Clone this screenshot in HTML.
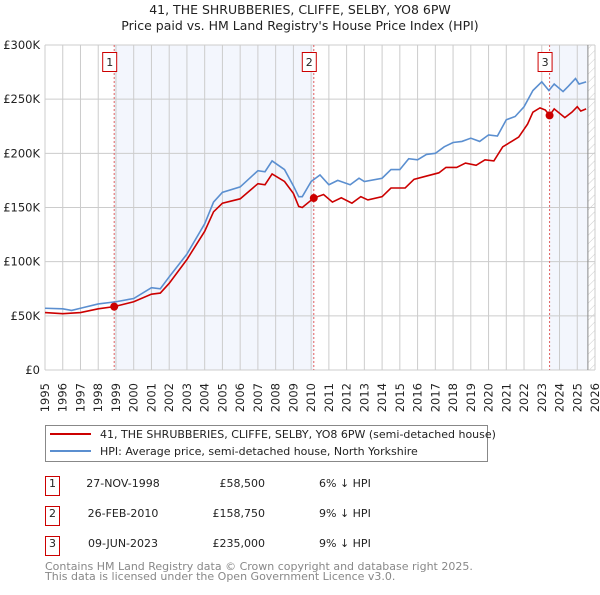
<!DOCTYPE html>
<html><head><meta charset="utf-8"><style>
body{margin:0;background:#fff;}
svg text{font-family:"DejaVu Sans","Liberation Sans",sans-serif;}
</style></head><body>
<svg width="600" height="590" viewBox="0 0 600 590" xmlns="http://www.w3.org/2000/svg">
<defs><pattern id="hatch" width="6" height="6" patternUnits="userSpaceOnUse" patternTransform="rotate(45)"><line x1="0" y1="0" x2="0" y2="6" stroke="#ccc" stroke-width="1"/></pattern></defs>
<text x="300" y="14" text-anchor="middle" font-size="12.5" fill="#222">41, THE SHRUBBERIES, CLIFFE, SELBY, YO8 6PW</text>
<text x="300" y="30" text-anchor="middle" font-size="12.5" fill="#222">Price paid vs. HM Land Registry's House Price Index (HPI)</text>
<g id="plot"></g>
<g>
<rect x="45.5" y="425.5" width="442" height="36" fill="#fff" stroke="#888"/>
<line x1="50" y1="434" x2="91" y2="434" stroke="#cc0000" stroke-width="2"/>
<text x="100" y="438" font-size="11" fill="#222">41, THE SHRUBBERIES, CLIFFE, SELBY, YO8 6PW (semi-detached house)</text>
<line x1="50" y1="451" x2="91" y2="451" stroke="#5b8fd0" stroke-width="2"/>
<text x="100" y="455" font-size="11" fill="#222">HPI: Average price, semi-detached house, North Yorkshire</text>
</g>
<g font-size="11" fill="#222">
<rect x="45.5" y="476.5" width="14" height="19" fill="#fff" stroke="#cc0000"/><text x="52.5" y="487" text-anchor="middle">1</text>
<text x="123" y="487" text-anchor="middle">27-NOV-1998</text><text x="265" y="487" text-anchor="end">£58,500</text><text x="319" y="487">6% ↓ HPI</text>
<rect x="45.5" y="506.5" width="14" height="19" fill="#fff" stroke="#cc0000"/><text x="52.5" y="517" text-anchor="middle">2</text>
<text x="123" y="517" text-anchor="middle">26-FEB-2010</text><text x="265" y="517" text-anchor="end">£158,750</text><text x="319" y="517">9% ↓ HPI</text>
<rect x="45.5" y="536.5" width="14" height="19" fill="#fff" stroke="#cc0000"/><text x="52.5" y="547" text-anchor="middle">3</text>
<text x="123" y="547" text-anchor="middle">09-JUN-2023</text><text x="265" y="547" text-anchor="end">£235,000</text><text x="319" y="547">9% ↓ HPI</text>
</g>
<text x="45" y="570" font-size="11" fill="#888">Contains HM Land Registry data © Crown copyright and database right 2025.</text>
<text x="45" y="580" font-size="11" fill="#888">This data is licensed under the Open Government Licence v3.0.</text>
</svg>
<script>
const yTicks=[0,50,100,150,200,250,300];
const yTickLabels=["£0","£50K","£100K","£150K","£200K","£250K","£300K"];
const years=[1995,1996,1997,1998,1999,2000,2001,2002,2003,2004,2005,2006,2007,2008,2009,2010,2011,2012,2013,2014,2015,2016,2017,2018,2019,2020,2021,2022,2023,2024,2025,2026];
const hpiT=[1995,1996,1996.5,1997,1998,1999,2000,2001,2001.5,2002,2003,2004,2004.5,2005,2006,2007,2007.4,2007.8,2008.5,2009,2009.3,2009.5,2010,2010.5,2011,2011.5,2012.2,2012.7,2013,2014,2014.5,2015,2015.5,2016,2016.5,2017,2017.5,2018,2018.5,2019,2019.5,2020,2020.5,2021,2021.5,2022,2022.5,2023,2023.4,2023.7,2024.2,2024.5,2024.9,2025.1,2025.5];
const hpiV=[57,56.5,55,57,61,63,66,76,75,86,107,135,155,164,169,184,183,193,185,170,160,160,174,180,171,175,171,177,174,177,185,185,195,194,199,200,206,210,211,214,211,217,216,231,234,243,258,266,258,264,257,262,269,264,266];
const ppT=[1995,1996,1997,1998,1998.9,2000,2001,2001.5,2002,2003,2004,2004.5,2005,2006,2007,2007.4,2007.8,2008.5,2009,2009.3,2009.5,2010.15,2010.7,2011.2,2011.7,2012.3,2012.8,2013.2,2014,2014.5,2015.3,2015.8,2016.5,2017.2,2017.6,2018.2,2018.7,2019.3,2019.8,2020.3,2020.8,2021.3,2021.7,2022.2,2022.5,2022.9,2023.2,2023.44,2023.7,2024.3,2024.7,2025,2025.2,2025.5];
const ppV=[53,52,53,56.5,58.5,63,70,71,80,102,128,146,154,158,172,171,181,174,163,151,150,158.75,162,155,159,154,160,157,160,168,168,176,179,182,187,187,191,189,194,193,206,211,215,227,238,242,240,235,241,233,238,243,239,241];
const saleT=[1998.9,2010.15,2023.44];
const saleV=[58.5,158.75,235];
const saleLabels=["1","2","3"];
const L=45,R=595,T=45,B=370,dataEnd=2025.6;
const X=t=>L+(t-1995)*(R-L)/31;
const Y=v=>B-v*(B-T)/300;
const NS="http://www.w3.org/2000/svg";
const g=document.getElementById('plot');
function mk(tag,attrs,parent){const e=document.createElementNS(NS,tag);for(const k in attrs)e.setAttribute(k,attrs[k]);(parent||g).appendChild(e);return e;}
let e;
e=mk('rect',{x:X(saleT[0]),y:T,width:X(saleT[1])-X(saleT[0]),height:B-T,fill:'#f3f6fd'});


e=mk('rect',{x:X(saleT[2]),y:T,width:X(dataEnd)-X(saleT[2]),height:B-T,fill:'#f3f6fd'});


e=mk('rect',{x:X(dataEnd),y:T,width:R-X(dataEnd),height:B-T,fill:'url(#hatch)'});


years.forEach(y=>{e=mk('line',{x1:X(y),x2:X(y),y1:T,y2:B,stroke:'#ccc'});


e=mk('text',{transform:`translate(${X(y)+4},383) rotate(-90)`,'text-anchor':'end','font-size':'11.5',fill:'#222'});e.textContent=y;

});
yTicks.forEach((v,i)=>{e=mk('line',{x1:L,x2:R,y1:Y(v),y2:Y(v),stroke:'#ccc'});


e=mk('text',{x:40,y:Y(v)+4,'text-anchor':'end','font-size':'11.5',fill:'#222'});e.textContent=yTickLabels[i];

});
e=mk('line',{x1:X(dataEnd),x2:X(dataEnd),y1:T,y2:B,stroke:'#888'});


saleT.forEach((t,i)=>{e=mk('line',{x1:X(t),x2:X(t),y1:T,y2:B,stroke:'#e06060','stroke-dasharray':'2,2'});

});
e=mk('polyline',{points:hpiT.map((t,i)=>X(t)+','+Y(hpiV[i])).join(' '),fill:'none',stroke:'#5b8fd0','stroke-width':1.6});


e=mk('polyline',{points:ppT.map((t,i)=>X(t)+','+Y(ppV[i])).join(' '),fill:'none',stroke:'#cc0000','stroke-width':1.6});


saleT.forEach((t,i)=>{e=mk('circle',{cx:X(t),cy:Y(saleV[i]),r:4,fill:'#cc0000'});


e=mk('rect',{x:X(t)-11.5,y:52.5,width:14,height:19,fill:'#fff',stroke:'#cc0000'});


e=mk('text',{x:X(t)-4.5,y:66,'text-anchor':'middle','font-size':'11',fill:'#222'});e.textContent=saleLabels[i];

});
</script>
</body></html>
